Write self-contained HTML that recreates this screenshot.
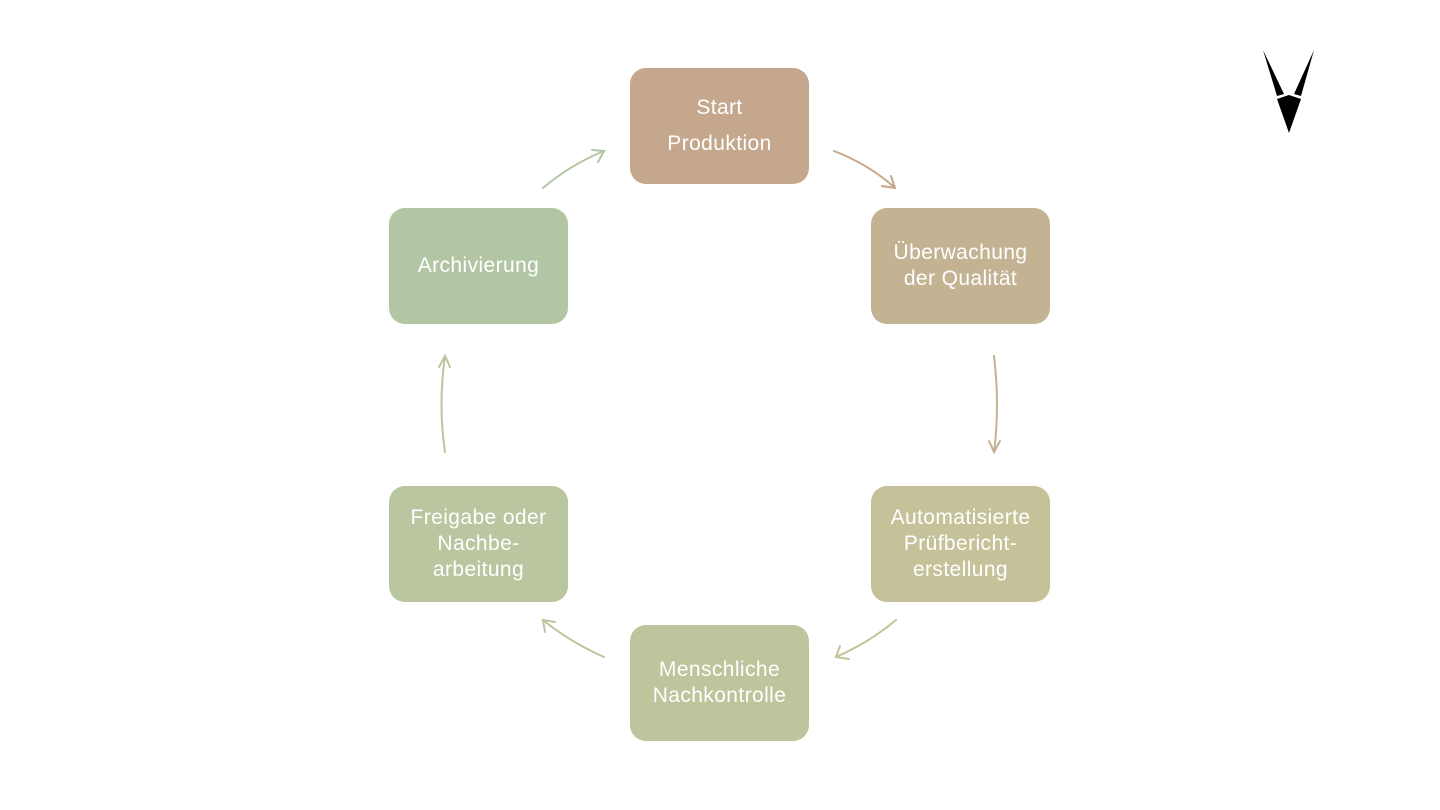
<!DOCTYPE html>
<html><head><meta charset="utf-8"><style>
body{margin:0;width:1440px;height:810px;background:#fff;position:relative;overflow:hidden;font-family:"Liberation Sans",sans-serif}
.b{position:absolute;width:179px;height:116px;border-radius:16px;color:#fff;font-size:21px;letter-spacing:0.4px;line-height:26px;display:flex;align-items:center;justify-content:center;text-align:center}
svg{position:absolute;left:0;top:0}
</style></head><body>
<svg width="1440" height="810" fill="none" stroke-width="2" stroke-linecap="round">
<path d="M834 151 Q870 165 895 188" stroke="#c4a78c"/><path d="M882 186 L895 188 L891 176" stroke="#c4a78c"/>
<path d="M994 356 Q1000 405 994 452" stroke="#c3b393"/><path d="M989 441 L994 452 L1000 441" stroke="#c3b393"/>
<path d="M896 620 Q870 642 836 657" stroke="#c5c29a"/><path d="M840 646 L836 657 L849 659" stroke="#c5c29a"/>
<path d="M604 657 Q570 642 543 620" stroke="#bfc49c"/><path d="M545 632 L543 620 L555 622" stroke="#bfc49c"/>
<path d="M445 452 Q438 405 445 356" stroke="#b9c69f"/><path d="M439 367 L445 356 L450 367" stroke="#b9c69f"/>
<path d="M543 188 Q570 165 604 151" stroke="#b3c6a3"/><path d="M592 150 L604 151 L598 162" stroke="#b3c6a3"/>
<polygon points="1263,50 1284,94 1277,96" fill="#000" stroke="none"/>
<polygon points="1314,50 1294,94 1301,96" fill="#000" stroke="none"/>
<polygon points="1277,99 1289,95 1301,99 1289,133" fill="#000" stroke="none"/>
</svg>
<div class="b" style="left:630px;top:68px;background:#c4a78c;line-height:36px">Start<br>Produktion</div>
<div class="b" style="left:871px;top:208px;background:#c3b393">Überwachung<br>der Qualität</div>
<div class="b" style="left:871px;top:486px;background:#c5c29a">Automatisierte<br>Prüfbericht-<br>erstellung</div>
<div class="b" style="left:630px;top:625px;background:#bfc49c">Menschliche<br>Nachkontrolle</div>
<div class="b" style="left:389px;top:486px;background:#b9c69f">Freigabe oder<br>Nachbe-<br>arbeitung</div>
<div class="b" style="left:389px;top:208px;background:#b3c6a3">Archivierung</div>
</body></html>
